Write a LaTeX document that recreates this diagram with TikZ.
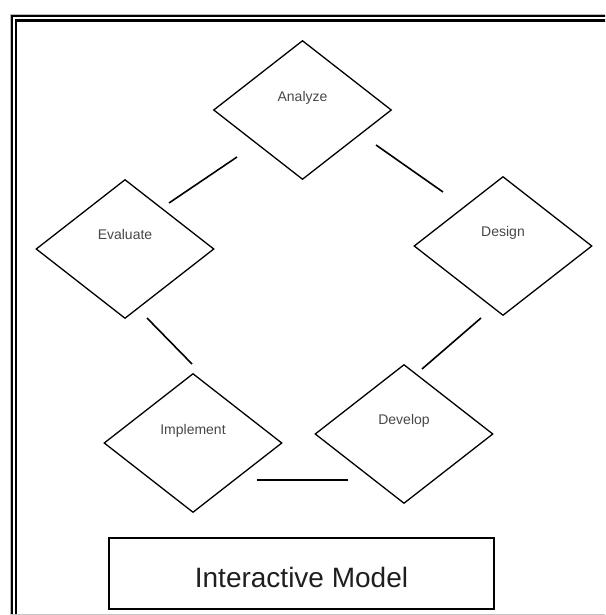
\documentclass[tikz,border=0pt]{standalone}
\usepackage{fontspec}
\setmainfont{Liberation Sans}
\usetikzlibrary{shapes.geometric}
\begin{document}
\begin{tikzpicture}[x=1pt,y=-1pt,
  stage/.style={diamond, draw, line width=1.3pt, minimum width=178pt, minimum height=139pt, inner sep=0pt, aspect=1.28},
  stagelabel/.style={font=\fontsize{14}{16}\selectfont, text=black!72, anchor=base, inner sep=0pt},
  conn/.style={line width=1.6pt},
  titlebox/.style={draw, line width=1.8pt, minimum width=385pt, minimum height=71pt, inner sep=0pt},
  titletext/.style={font=\fontsize{28}{32}\selectfont, text=black!88, anchor=base, inner sep=0pt}]
\useasboundingbox (0,0) rectangle (605,615);
% frame
\begin{scope}
\clip (0,0) rectangle (605,615);
\draw[gray!55, line width=1pt] (10.2,700) -- (10.2,14.8) -- (700,14.8);
\draw[line width=2pt] (11.9,700) -- (11.9,16.4) -- (700,16.4);
\draw[line width=2.4pt] (15.7,700) -- (15.7,20.6) -- (700,20.6);
\draw[gray!45, line width=1pt] (10,614.4) -- (700,614.4);
\end{scope}
% stages
\node[stage] (an) at (302.5,110) {};
\node[stage] (ev) at (125,249) {};
\node[stage] (de) at (503,246) {};
\node[stage] (dv) at (404,434) {};
\node[stage] (im) at (193,443) {};
\node[stagelabel] (anl) at ([yshift=8.5pt]an.center) {Analyze};
\node[stagelabel] (evl) at ([yshift=9.7pt]ev.center) {Evaluate};
\node[stagelabel] (del) at ([yshift=10pt]de.center) {Design};
\node[stagelabel] (dvl) at ([yshift=10pt]dv.center) {Develop};
\node[stagelabel] (iml) at ([yshift=9pt]im.center) {Implement};
% connectors
\coordinate (c1a) at (169,203);
\coordinate (c1b) at (237,157);
\coordinate (c2a) at (376,145);
\coordinate (c2b) at (443,192);
\coordinate (c3a) at (481,318);
\coordinate (c3b) at (422,369);
\coordinate (c4a) at (348,480);
\coordinate (c4b) at (257,480);
\coordinate (c5a) at (192,364);
\coordinate (c5b) at (147,318);
\draw[conn] (c1a) -- (c1b);
\draw[conn] (c2a) -- (c2b);
\draw[conn] (c3a) -- (c3b);
\draw[conn] (c4a) -- (c4b);
\draw[conn] (c5a) -- (c5b);
% title
\node[titlebox] (tb) at (301.5,573.5) {};
\node[titletext] (tt) at ([yshift=-13.8pt]tb.center) {Interactive Model};
\end{tikzpicture}
\end{document}
